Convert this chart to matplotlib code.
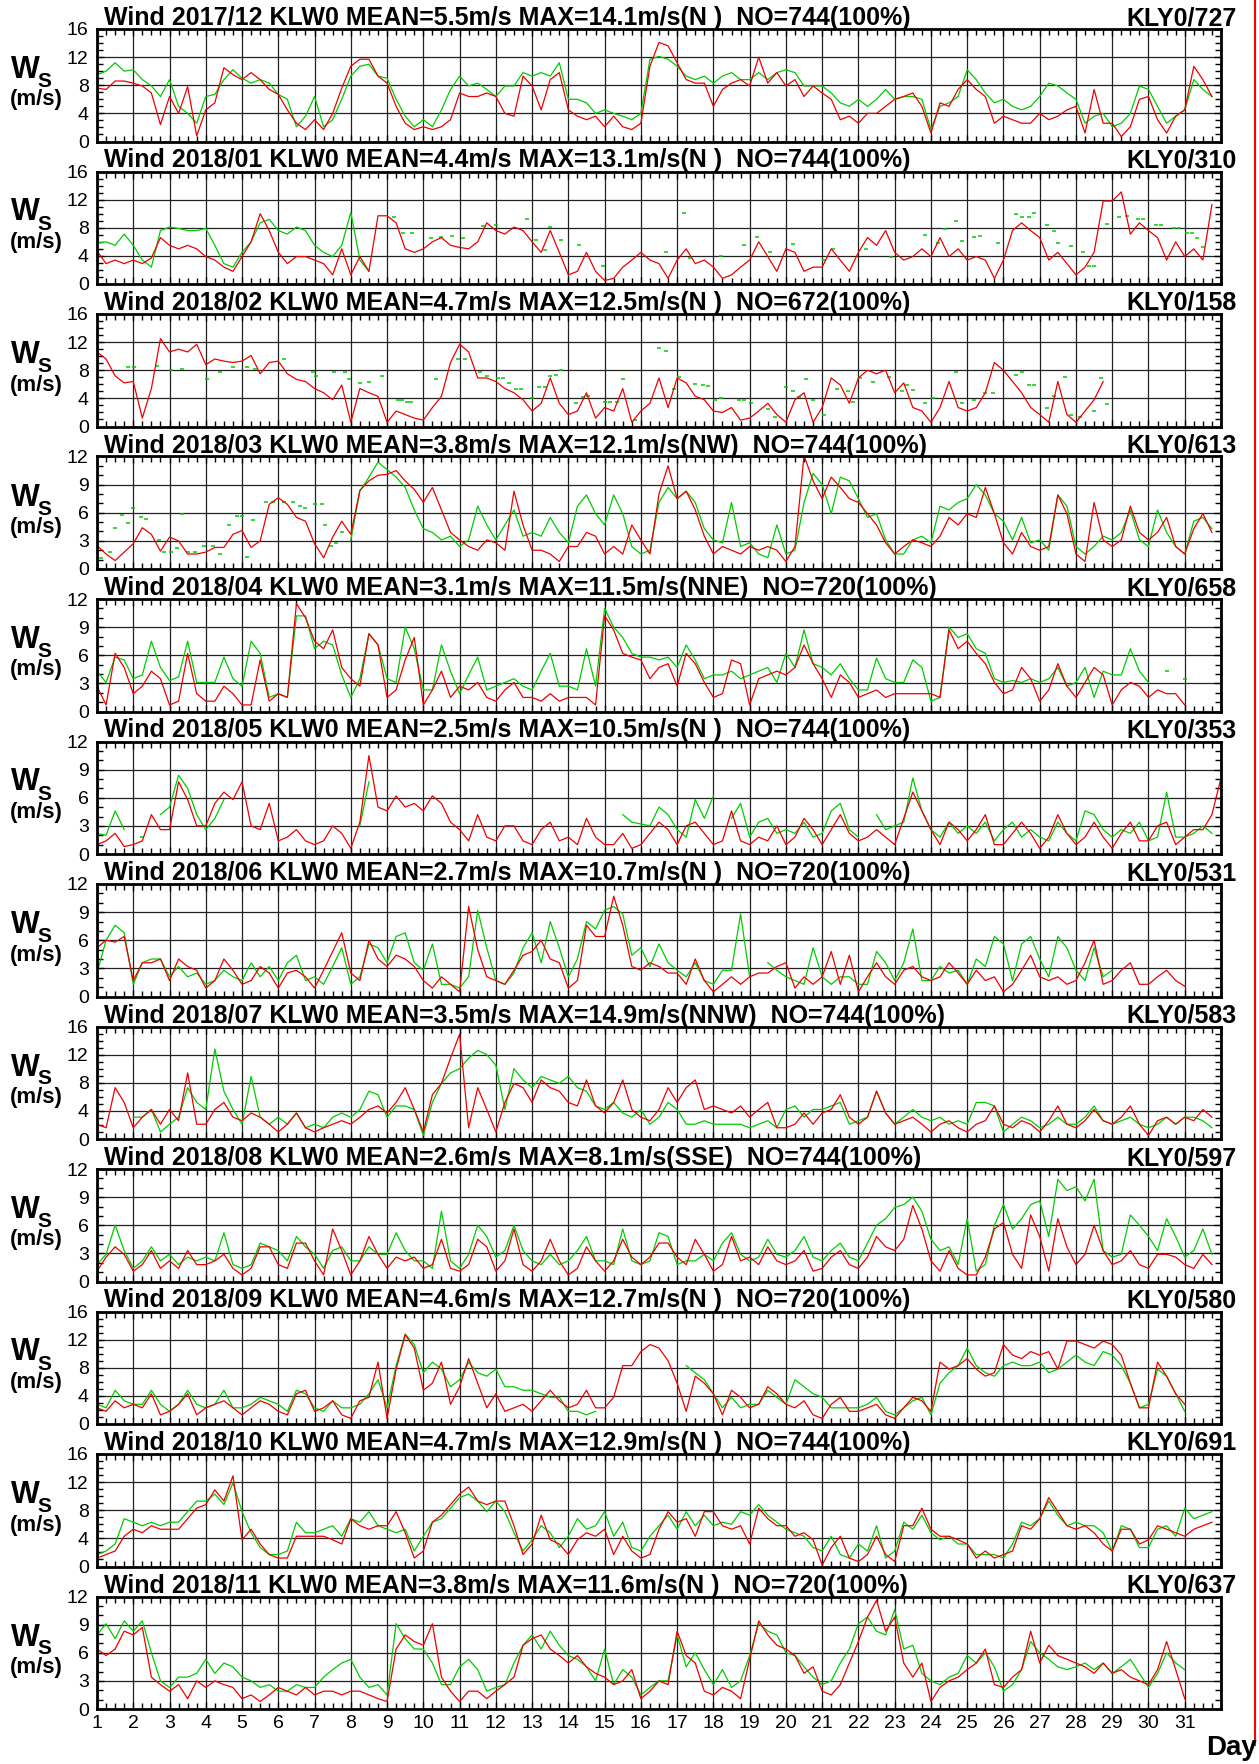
import numpy as np
import matplotlib
matplotlib.use("Agg")
import matplotlib.pyplot as plt
from matplotlib.lines import Line2D
from matplotlib.ticker import MultipleLocator

nan = np.nan

# panel headers
months = ['2017/12', '2018/01', '2018/02', '2018/03', '2018/04', '2018/05',
          '2018/06', '2018/07', '2018/08', '2018/09', '2018/10', '2018/11']
means = [5.5, 4.4, 4.7, 3.8, 3.1, 2.5, 2.7, 3.5, 2.6, 4.6, 4.7, 3.8]
maxes = [14.1, 13.1, 12.5, 12.1, 11.5, 10.5, 10.7, 14.9, 8.1, 12.7, 12.9, 11.6]
max_dirs = ['N ', 'N ', 'N ', 'NW', 'NNE', 'N ', 'N ', 'NNW', 'SSE', 'N ', 'N ', 'N ']
counts = [744, 744, 672, 744, 720, 744, 720, 744, 744, 720, 744, 720]
ref_ids = ['KLY0/727', 'KLY0/310', 'KLY0/158', 'KLY0/613', 'KLY0/658', 'KLY0/353',
           'KLY0/531', 'KLY0/583', 'KLY0/597', 'KLY0/580', 'KLY0/691', 'KLY0/637']
y_tops = [16, 16, 16, 12, 12, 12, 12, 16, 12, 16, 16, 12]
day_labels = [str(d) for d in range(1, 32)]

# wind speed (m/s), one value every 6 hours starting at day 1 00h
dec_red = [
    7.6, 7.4, 8.6, 8.6, 8.3, 7.9, 6.9, 2.4,
    6.4, 4.0, 7.8, 0.8, 4.5, 5.5, 10.5, 9.5,
    8.8, 9.8, 8.8, 7.4, 6.7, 4.5, 2.6, 1.7,
    3.1, 1.7, 4.0, 7.6, 10.7, 11.7, 11.7, 9.3,
    8.3, 5.0, 2.6, 1.7, 2.1, 1.7, 2.1, 3.1,
    6.9, 6.4, 6.4, 6.9, 6.4, 4.0, 3.6, 9.3,
    7.9, 4.5, 8.8, 9.8, 4.5, 3.6, 3.1, 3.6,
    2.1, 3.6, 2.1, 1.7, 2.6, 10.7, 14.1, 13.6,
    11.2, 8.8, 8.3, 8.3, 5.0, 7.4, 8.3, 8.8,
    7.9, 12.0, 8.3, 9.8, 7.9, 8.8, 6.4, 7.9,
    6.9, 6.0, 3.1, 3.6, 2.6, 4.0, 4.0, 5.0,
    6.0, 6.4, 6.9, 5.0, 1.2, 5.5, 5.0, 7.4,
    8.8, 7.4, 6.4, 2.6, 3.6, 3.1, 2.6, 2.6,
    4.0, 3.1, 3.6, 4.5, 5.0, 1.2, 7.4, 2.6,
    2.6, 0.7, 2.1, 6.0, 6.4, 3.1, 1.2, 3.6,
    4.5, 10.7, 8.8, 6.4,
]
dec_green = [
    9.5, 10.0, 11.2, 10.0, 10.2, 8.8, 7.9, 6.4,
    8.8, 5.0, 4.0, 2.6, 6.4, 6.7, 8.8, 10.2,
    9.0, 8.3, 8.8, 8.3, 6.7, 6.0, 2.1, 3.6,
    6.4, 2.1, 3.1, 6.0, 9.3, 10.7, 11.0, 9.3,
    9.0, 6.0, 3.6, 2.1, 3.1, 2.1, 4.5, 7.4,
    9.3, 7.9, 8.3, 7.4, 6.4, 7.9, 7.9, 9.8,
    9.3, 9.8, 9.3, 11.2, 6.0, 6.0, 5.5, 4.0,
    4.5, 4.0, 3.6, 3.1, 4.0, 11.7, 12.1, 11.7,
    10.7, 9.3, 8.8, 9.3, 8.3, 9.3, 9.8, 8.8,
    8.8, 9.8, 8.8, 9.8, 10.2, 9.8, 7.9, 7.9,
    7.9, 6.9, 5.5, 5.0, 6.0, 5.0, 6.0, 7.4,
    6.0, 6.4, 6.4, 6.0, 1.7, 5.0, 5.5, 6.4,
    10.2, 8.8, 6.9, 5.5, 6.0, 5.0, 4.5, 5.0,
    6.4, 8.3, 7.9, 6.9, 6.0, 2.6, 3.6, 4.0,
    2.1, 2.6, 4.0, 7.9, 7.4, 5.0, 2.6, 3.6,
    4.5, 8.8, 7.4, 6.4,
]

jan_red = [
    4.7, 2.9, 3.4, 2.9, 3.4, 2.9, 3.7, 6.6,
    5.5, 5.0, 5.5, 5.0, 3.9, 3.4, 2.4, 1.8,
    3.9, 6.0, 10.0, 7.6, 4.5, 2.9, 3.9, 3.9,
    3.4, 2.9, 1.3, 5.0, 1.3, 3.9, 1.8, 9.7,
    9.7, 8.7, 5.0, 4.5, 5.0, 6.0, 6.6, 5.5,
    5.2, 5.0, 6.0, 8.7, 7.6, 7.1, 8.1, 7.6,
    6.0, 4.5, 7.6, 4.5, 1.3, 1.8, 4.5, 1.8,
    0.5, 0.8, 2.4, 3.4, 4.5, 3.4, 2.9, 0.8,
    3.4, 5.0, 2.9, 3.4, 2.4, 0.8, 1.3, 2.4,
    3.4, 6.0, 3.9, 1.8, 5.0, 4.5, 1.8, 2.4,
    2.4, 5.0, 3.4, 1.8, 4.5, 6.6, 5.5, 7.6,
    4.5, 3.4, 3.9, 5.0, 3.9, 6.6, 3.9, 5.0,
    3.4, 3.9, 3.4, 0.8, 3.4, 7.6, 8.7, 7.6,
    6.6, 3.4, 4.5, 2.9, 1.3, 2.4, 4.5, 11.8,
    11.8, 13.1, 7.1, 8.7, 7.6, 6.6, 3.4, 6.0,
    3.9, 5.0, 3.4, 11.3,
]
jan_green = [
    5.8, 6.0, 5.5, 7.1, 5.5, 3.4, 2.4, 7.6,
    8.1, 7.9, 7.6, 7.6, 7.9, 5.5, 2.9, 2.4,
    4.5, 6.0, 8.7, 9.2, 7.6, 7.1, 8.1, 7.6,
    5.5, 4.5, 3.9, 5.5, 10.2, 3.4, 1.8,
]
jan_dot_days = [9.2, 9.45, 9.7, 10.2, 10.5, 10.8, 11.1, 11.65, 12.0, 12.85, 13.1, 13.35,
                13.5, 13.8, 14.3, 14.95, 16.7, 17.2, 17.35, 18.2, 18.85, 19.2, 19.55, 20.2,
                21.05, 21.3, 22.2, 22.9, 23.85, 24.2, 24.4, 24.7, 24.85, 25.2, 25.35, 25.85,
                26.35, 26.5, 26.7, 26.85, 27.2, 27.4, 27.5, 27.85, 28.2, 28.35, 28.5, 28.85,
                29.2, 29.4, 29.7, 29.85, 30.2, 30.35, 30.7, 30.85, 31.05, 31.2, 31.35, 31.5]
jan_dot_vals = [9.6, 7.3, 7.3, 6.6, 6.7, 6.8, 6.5, 8.2, 8.4, 9.2, 6.3, 4.8,
                8.1, 6.3, 5.5, 2.6, 4.5, 10.1, 3.7, 4.0, 5.5, 6.7, 4.6, 5.7,
                3.4, 5.0, 5.0, 3.9, 7.0, 5.8, 7.8, 8.9, 6.1, 6.7, 6.8, 5.9,
                9.9, 9.5, 9.6, 10.1, 8.4, 7.6, 5.8, 5.4, 4.6, 2.6, 2.6, 8.6,
                9.5, 9.7, 9.3, 9.3, 8.4, 8.4, 7.9, 7.9, 7.2, 7.2, 6.6, 5.2]

feb_red = [
    10.6, 9.6, 7.2, 6.2, 6.4, 1.2, 5.4, 12.5,
    10.6, 11.0, 10.6, 11.7, 8.8, 9.6, 9.3, 9.1,
    9.3, 10.1, 7.5, 9.1, 9.3, 7.5, 6.7, 6.4,
    5.4, 4.8, 3.8, 5.9, 0.6, 5.4, 4.8, 4.3,
    0.6, 2.2, 1.7, 1.2, 0.9, 2.7, 4.3, 9.1,
    11.7, 10.6, 6.9, 6.9, 6.4, 5.4, 4.8, 3.8,
    2.2, 3.3, 6.9, 3.3, 1.7, 2.2, 4.8, 1.2,
    2.7, 2.2, 5.4, 0.6, 2.2, 3.3, 6.9, 2.7,
    6.9, 6.2, 4.3, 3.8, 2.2, 2.0, 2.7, 0.9,
    1.2, 2.2, 3.3, 1.7, 0.6, 3.8, 4.8, 0.6,
    2.7, 6.9, 5.9, 3.3, 6.9, 8.0, 7.5, 8.0,
    4.8, 6.2, 2.7, 2.2, 0.6, 2.7, 6.4, 2.7,
    2.2, 2.7, 4.8, 9.1, 8.0, 6.4, 4.8, 2.7,
    1.7, 0.6, 6.4, 1.7, 0.6, 2.2, 3.8, 6.4,
]
feb_green = []
feb_dot_days = [1.85, 2.03, 2.65, 3.05, 3.35, 4.03, 4.4, 4.75, 5.15, 5.35, 6.15, 6.95,
                7.05, 7.55, 7.85, 7.95, 8.25, 8.5, 8.85, 9.3, 9.4, 9.55, 9.65, 10.35,
                10.95, 11.15, 11.55, 11.75, 12.05, 12.2, 12.35, 12.55, 12.7, 13.0, 13.2, 13.35,
                13.5, 13.65, 13.8, 14.2, 14.4, 14.55, 15.0, 15.15, 15.35, 15.5, 15.85, 16.5,
                16.7, 16.9, 17.05, 17.5, 17.7, 17.85, 18.05, 18.2, 18.7, 18.85, 19.05, 19.5,
                19.7, 20.0, 20.2, 20.35, 20.55, 20.75, 21.05, 21.4, 21.7, 21.85, 22.05, 22.4,
                22.85, 23.2, 23.35, 23.5, 23.85, 24.05, 24.7, 24.85, 25.2, 25.5, 25.7, 26.35,
                26.5, 26.7, 26.85, 27.2, 27.4, 27.7, 27.85, 28.1, 28.5, 28.7, 28.85]
feb_dot_vals = [8.4, 8.4, 8.6, 8.0, 8.2, 6.8, 7.7, 8.5, 8.5, 8.2, 9.6, 7.7,
                7.2, 7.7, 7.8, 6.7, 6.2, 6.3, 7.2, 3.7, 3.8, 3.5, 3.5, 6.8,
                9.6, 9.6, 7.7, 7.2, 6.9, 6.9, 6.2, 5.4, 5.4, 4.1, 5.6, 5.6,
                7.2, 7.3, 8.0, 3.3, 4.2, 4.3, 3.5, 3.5, 3.5, 6.8, 0.9, 11.2,
                10.7, 5.4, 7.0, 6.1, 5.9, 5.7, 3.8, 4.1, 3.8, 3.8, 3.3, 2.5,
                1.4, 5.6, 5.1, 4.2, 6.7, 3.8, 1.6, 5.3, 5.1, 3.5, 6.9, 6.4,
                7.0, 5.1, 5.9, 5.2, 3.3, 4.1, 7.7, 3.3, 3.8, 4.8, 4.8, 7.3,
                7.7, 5.9, 5.9, 2.7, 4.3, 7.0, 1.7, 1.3, 2.2, 6.9, 3.2]

mar_red = [
    2.5, 1.6, 0.9, 1.8, 2.7, 4.4, 3.7, 1.9,
    3.4, 3.0, 1.6, 1.6, 1.8, 2.3, 2.3, 3.7,
    4.1, 2.3, 3.0, 6.9, 7.6, 6.9, 5.5, 5.1,
    2.7, 1.2, 3.4, 5.1, 3.7, 8.4, 9.4, 10.0,
    10.1, 10.5, 9.4, 8.5, 7.1, 8.7, 6.3, 3.9,
    3.1, 2.4, 2.0, 3.1, 2.8, 2.0, 8.3, 4.7,
    2.0, 2.0, 1.6, 0.8, 2.4, 2.4, 3.9, 3.5,
    1.6, 2.4, 1.6, 4.7, 3.1, 1.6, 8.0, 11.0,
    7.5, 8.3, 6.3, 3.5, 1.6, 2.4, 2.0, 1.6,
    2.4, 2.0, 2.4, 2.0, 0.8, 2.4, 12.1, 9.4,
    7.5, 9.8, 8.7, 7.5, 7.1, 5.9, 4.7, 2.8,
    1.6, 2.4, 3.1, 2.8, 2.4, 3.5, 5.5, 4.7,
    5.9, 5.5, 8.7, 5.9, 2.8, 1.6, 3.9, 2.4,
    2.0, 2.4, 7.9, 5.9, 1.6, 0.8, 7.1, 3.1,
    2.4, 3.1, 6.7, 3.9, 3.1, 3.9, 5.5, 2.4,
    1.6, 4.3, 5.9, 3.9,
]
mar_green = [nan] * 28 + [
    3.1, 8.3, 9.8, 11.4, 10.6, 9.8, 8.7, 6.3,
    4.3, 3.9, 3.1, 3.5, 2.4, 3.1, 6.7, 4.7,
    3.1, 4.7, 6.3, 3.5, 3.9, 3.5, 5.5, 3.9,
    2.8, 6.7, 7.9, 5.9, 4.7, 7.9, 5.9, 2.4,
    1.6, 2.0, 7.1, 8.7, 7.5, 8.3, 7.1, 4.3,
    3.1, 2.8, 7.1, 2.4, 2.8, 1.6, 1.2, 4.7,
    1.6, 2.0, 7.1, 10.2, 9.0, 5.9, 9.8, 9.4,
    7.5, 5.5, 5.9, 3.1, 1.6, 1.6, 3.1, 3.5,
    2.8, 6.7, 6.3, 7.1, 7.5, 9.0, 7.9, 5.9,
    5.1, 3.1, 5.5, 2.8, 3.1, 2.0, 7.9, 6.7,
    2.4, 1.6, 2.4, 3.5, 3.1, 3.9, 6.3, 3.1,
    2.4, 6.3, 3.9, 2.4, 1.6, 5.1, 5.5, 4.3,
]
mar_dot_days = [1.1, 1.35, 1.5, 1.7, 1.85, 2.0, 2.2, 2.35, 2.7, 2.85, 3.05, 3.2,
                3.35, 3.5, 3.7, 3.95, 4.2, 4.4, 4.65, 4.85, 5.0, 5.15, 5.3, 5.65,
                5.85, 6.15, 6.4, 6.6, 6.75, 7.0, 7.2, 7.3, 7.45, 7.6, 7.75]
mar_dot_vals = [1.2, 1.8, 4.4, 5.8, 4.9, 6.5, 5.5, 5.3, 3.1, 1.8, 1.8, 2.2,
                5.9, 1.8, 1.8, 2.4, 2.4, 1.6, 4.7, 5.6, 5.6, 1.3, 5.2, 7.1,
                7.1, 7.1, 7.1, 6.7, 6.5, 6.9, 6.9, 4.7, 2.4, 2.8, 3.9]

apr_red = [
    2.7, 0.7, 6.2, 4.7, 1.9, 2.7, 4.3, 3.5,
    0.7, 1.1, 6.2, 1.9, 1.1, 1.1, 2.7, 1.9,
    0.7, 0.7, 5.5, 1.1, 1.9, 1.5, 11.5, 10.0,
    7.5, 6.7, 8.7, 4.7, 3.5, 2.7, 8.3, 7.1,
    1.5, 2.3, 5.5, 7.9, 0.7, 2.3, 4.3, 1.5,
    2.7, 2.3, 3.1, 1.5, 1.1, 2.3, 3.1, 1.5,
    1.5, 1.1, 1.9, 1.1, 1.5, 1.5, 1.5, 0.7,
    10.2, 8.7, 6.2, 5.8, 5.5, 3.5, 4.7, 5.1,
    2.7, 6.2, 5.1, 3.1, 1.5, 1.9, 5.5, 5.1,
    0.7, 3.5, 3.9, 4.3, 3.9, 4.7, 7.1, 5.1,
    3.5, 1.5, 3.9, 3.1, 1.5, 1.9, 2.3, 1.5,
    1.9, 1.9, 1.9, 1.9, 1.9, 1.5, 8.7, 6.7,
    7.5, 6.2, 5.1, 3.1, 1.9, 2.3, 4.7, 3.5,
    1.1, 2.3, 5.1, 2.7, 1.5, 3.1, 4.7, 3.9,
    0.7, 2.3, 3.1, 2.7, 1.5, 2.3, 1.9, 1.9,
    0.7,
]
apr_green = [
    4.3, 3.1, 5.8, 5.5, 3.5, 3.9, 7.5, 4.7,
    3.3, 3.7, 7.5, 3.1, 3.1, 3.1, 5.8, 3.5,
    2.7, 7.5, 6.2, 1.5, 1.9, 1.5, 10.2, 10.2,
    6.7, 7.5, 7.1, 3.9, 1.5, 3.5, 8.3, 7.1,
    3.5, 3.1, 9.0, 6.7, 2.3, 2.3, 7.1, 4.3,
    1.9, 3.9, 5.8, 2.3, 2.7, 3.1, 3.5, 2.7,
    2.3, 4.3, 6.2, 2.7, 2.7, 2.3, 6.7, 2.7,
    11.0, 9.0, 7.9, 6.2, 5.8, 5.8, 5.5, 5.8,
    4.7, 7.1, 5.5, 3.5, 3.9, 3.9, 4.3, 3.5,
    3.9, 4.3, 4.7, 3.1, 6.2, 4.7, 8.7, 5.1,
    4.7, 3.9, 5.1, 3.5, 2.3, 2.3, 5.7, 3.5,
    3.1, 3.1, 5.5, 4.7, 1.1, 1.5, 9.0, 7.9,
    8.3, 6.7, 6.2, 3.5, 3.1, 3.3, 3.1, 3.5,
    3.1, 3.5, 4.7, 2.7, 3.1, 4.7, 1.5, 4.3,
    3.9, 3.9, 6.7, 4.3, 3.1, nan, 4.3, nan,
    3.5,
]

may_red = [
    1.0, 1.4, 2.2, 0.8, 1.0, 1.4, 4.2, 2.6,
    2.6, 7.7, 5.8, 3.0, 3.0, 5.4, 6.6, 5.8,
    7.7, 3.0, 2.6, 5.4, 1.4, 1.8, 2.6, 1.4,
    1.0, 1.4, 3.0, 2.2, 0.6, 3.4, 10.5, 5.0,
    4.6, 6.2, 5.0, 5.4, 4.6, 6.2, 5.4, 3.4,
    2.6, 1.4, 4.2, 1.8, 1.4, 3.0, 3.0, 1.4,
    1.0, 2.6, 3.4, 1.4, 1.8, 1.0, 3.8, 1.8,
    1.0, 1.0, 2.2, 0.6, 1.0, 2.2, 3.4, 2.6,
    1.0, 3.0, 3.4, 2.2, 1.0, 1.4, 4.6, 1.4,
    1.0, 1.8, 1.4, 3.0, 1.0, 1.8, 3.8, 2.6,
    1.0, 2.6, 4.2, 2.2, 1.4, 1.8, 2.6, 1.8,
    1.0, 3.8, 6.6, 4.6, 2.6, 1.0, 3.4, 2.6,
    1.4, 2.6, 4.2, 1.0, 1.0, 2.2, 3.4, 2.2,
    0.6, 1.8, 4.2, 2.2, 1.0, 1.8, 3.4, 1.8,
    0.6, 2.2, 3.4, 1.4, 1.4, 3.0, 3.4, 1.0,
    1.8, 2.6, 2.6, 4.2, 8.1,
]
may_green = [
    2.2, 2.0, 4.6, 2.6, nan, 1.8, nan, 4.2,
    5.0, 8.4, 7.0, 4.2, 2.6, 3.8, 5.8, nan,
    nan, nan, nan, nan, nan, nan, nan, nan,
    nan, nan, nan, nan, nan, 3.0, 7.7, nan,
    nan, nan, nan, nan, nan, nan, nan, nan,
    nan, nan, nan, nan, nan, nan, nan, nan,
    nan, nan, nan, nan, nan, nan, nan, nan,
    nan, nan, 4.2, 3.4, 3.2, 3.0, 5.0, 4.2,
    2.6, 1.8, 5.8, 3.8, 6.2, nan, 3.8, 5.4,
    1.8, 3.4, 3.8, 2.2, 2.6, 2.2, 3.4, 1.8,
    2.2, 4.6, 5.4, 2.6, 1.8, nan, 4.2, 2.6,
    3.0, 3.4, 8.1, 4.6, 2.6, 1.8, 3.4, 2.2,
    3.0, 2.2, 3.4, 1.4, 2.6, 3.4, 1.8, 2.6,
    1.8, 1.4, 3.4, 2.2, 1.4, 4.6, 4.2, 2.6,
    1.8, 2.6, 2.2, 3.4, 1.4, 1.8, 6.6, 1.8,
    1.8, 2.2, 3.0, 2.2,
]

jun_red = [
    5.2, 6.0, 5.8, 6.4, 1.7, 3.6, 3.6, 4.0,
    1.7, 4.0, 3.2, 2.8, 0.9, 1.7, 4.0, 2.8,
    1.3, 1.7, 3.2, 2.5, 0.9, 2.5, 2.8, 2.1,
    0.9, 2.8, 4.8, 6.8, 2.5, 1.7, 6.0, 4.0,
    3.2, 4.4, 4.0, 3.2, 1.7, 0.9, 2.1, 1.3,
    0.5, 9.6, 5.0, 2.1, 1.7, 1.3, 2.8, 4.4,
    4.8, 6.0, 4.0, 3.6, 0.9, 1.7, 7.6, 6.4,
    6.4, 10.7, 7.6, 3.2, 2.8, 3.6, 3.2, 2.5,
    2.5, 1.3, 4.0, 1.7, 0.5, 1.3, 2.1, 1.3,
    2.1, 2.5, 2.5, 3.2, 3.6, 0.9, 2.1, 1.3,
    2.1, 4.8, 1.3, 4.4, 0.5, 2.1, 3.6, 2.1,
    1.3, 2.8, 3.2, 2.1, 1.7, 2.1, 3.6, 2.5,
    1.3, 2.8, 1.7, 2.1, 0.5, 1.3, 2.8, 4.4,
    2.1, 1.7, 2.1, 1.3, 1.7, 3.6, 6.0, 1.3,
    1.7, 2.8, 3.6, 1.3, 1.3, 2.1, 2.8, 1.7,
    1.1,
]
jun_green = [
    2.5, 6.0, 7.6, 6.8, 1.3, 3.6, 4.0, 4.0,
    2.1, 3.2, 2.1, 2.5, 1.3, 1.7, 2.8, 2.1,
    1.7, 3.6, 2.1, 3.2, 1.7, 3.6, 4.4, 1.7,
    2.1, 1.3, 3.2, 5.2, 1.3, 2.1, 5.6, 5.2,
    3.6, 6.4, 6.8, 3.6, 2.8, 5.6, 1.3, 1.3,
    0.9, 2.1, 9.2, 5.2, 1.7, 1.3, 2.5, 5.2,
    6.8, 3.6, 8.0, 5.2, 2.1, 4.0, 8.0, 7.2,
    9.2, 9.6, 8.8, 4.4, 5.2, 3.2, 5.6, 3.6,
    2.8, 2.1, 3.6, 1.7, 1.3, 2.8, 2.8, 8.8,
    2.1, nan, 3.6, 2.8, 2.1, 1.7, 1.3, 5.2,
    2.1, 1.3, 2.1, 2.1, 1.3, 1.3, 4.8, 3.6,
    1.7, 3.6, 7.2, 1.7, 1.7, 3.2, 2.5, 2.8,
    1.3, 4.0, 3.2, 6.4, 5.6, 1.7, 5.6, 6.4,
    4.0, 2.1, 6.4, 5.2, 2.8, 1.7, 5.2, 2.1,
    2.8,
]

jul_red = [
    2.1, 1.6, 7.3, 5.2, 1.6, 3.1, 4.2, 2.1,
    4.2, 2.6, 9.4, 2.1, 2.1, 4.2, 5.2, 3.1,
    2.6, 3.7, 3.1, 2.1, 1.0, 2.1, 3.7, 1.6,
    1.0, 1.6, 2.1, 2.6, 2.1, 3.1, 4.2, 4.7,
    3.7, 5.2, 7.3, 4.2, 1.0, 6.3, 7.9, 11.5,
    14.9, 1.6, 7.3, 4.2, 1.0, 5.2, 7.9, 7.3,
    5.2, 8.4, 7.3, 6.8, 5.2, 4.7, 8.4, 4.7,
    3.7, 5.2, 8.4, 4.2, 3.1, 2.6, 4.2, 7.3,
    5.2, 7.3, 8.4, 4.2, 4.7, 4.2, 3.7, 4.7,
    3.1, 4.2, 5.2, 1.6, 1.6, 2.1, 3.7, 2.1,
    3.7, 4.2, 6.3, 3.1, 2.1, 3.1, 6.8, 3.7,
    2.1, 2.6, 3.1, 2.1, 1.0, 2.1, 2.6, 1.6,
    1.0, 2.1, 2.6, 4.7, 2.1, 1.6, 2.6, 2.1,
    1.0, 2.6, 4.7, 2.1, 1.6, 2.6, 4.2, 2.6,
    2.1, 3.1, 4.7, 2.1, 0.5, 2.6, 3.1, 2.1,
    3.1, 2.6, 4.2, 3.1,
]
jul_green = [
    nan, nan, nan, nan, 3.1, 3.1, 4.2, 1.0,
    2.1, 3.1, 7.3, 5.2, 4.2, 12.8, 6.8, 4.2,
    2.1, 8.9, 3.1, 2.1, 3.1, 2.1, 3.7, 1.6,
    2.1, 1.6, 3.1, 3.7, 3.1, 4.2, 6.8, 6.3,
    3.1, 4.7, 4.7, 4.2, 0.5, 5.2, 7.9, 9.4,
    10.0, 11.5, 12.6, 12.0, 10.5, 4.2, 10.0, 8.4,
    7.3, 8.9, 8.4, 7.9, 8.9, 7.3, 6.8, 4.7,
    4.2, 5.2, 3.7, 3.1, 4.2, 2.1, 3.1, 5.2,
    4.2, 2.1, 2.1, 2.6, 2.1, 2.1, 2.1, 2.1,
    1.6, 2.1, 2.6, 1.6, 4.2, 4.7, 3.1, 4.2,
    4.2, 4.7, 5.2, 2.1, 2.6, 3.1, 6.8, 3.7,
    2.1, 3.1, 4.2, 3.1, 2.6, 3.1, 2.1, 2.6,
    2.1, 5.2, 5.2, 4.7, 1.0, 2.1, 3.1, 2.6,
    1.6, 2.1, 3.1, 2.1, 2.1, 3.1, 4.7, 2.6,
    2.1, 2.6, 3.1, 2.1, 1.6, 2.1, 3.1, 2.1,
    3.1, 3.1, 2.6, 1.6,
]

aug_red = [
    1.1, 2.6, 3.7, 2.9, 1.1, 1.8, 3.3, 1.4,
    2.2, 1.4, 3.3, 1.8, 1.8, 2.2, 2.9, 1.4,
    0.7, 1.4, 3.7, 3.7, 1.8, 1.4, 4.1, 4.1,
    2.2, 0.7, 5.6, 3.3, 0.7, 2.2, 4.8, 2.9,
    1.4, 2.6, 2.2, 2.6, 1.4, 1.8, 4.5, 1.4,
    1.1, 1.8, 4.5, 3.7, 1.1, 2.2, 5.6, 1.8,
    1.1, 2.2, 4.5, 2.2, 0.7, 1.4, 3.7, 2.2,
    1.1, 2.2, 4.5, 2.6, 1.8, 2.6, 4.1, 4.1,
    2.6, 1.8, 4.5, 2.9, 1.1, 1.8, 4.8, 2.2,
    2.6, 1.8, 3.7, 2.2, 1.8, 2.2, 3.3, 1.1,
    1.4, 2.6, 3.3, 1.8, 1.4, 2.6, 4.8, 3.7,
    3.3, 4.5, 8.1, 5.6, 2.2, 1.1, 3.3, 1.4,
    0.7, 0.7, 2.6, 5.6, 6.3, 2.9, 1.4, 7.1,
    4.8, 1.1, 6.7, 3.7, 1.8, 2.9, 6.0, 3.3,
    1.8, 2.2, 3.3, 1.8, 1.4, 2.9, 2.9, 2.6,
    1.8, 1.4, 2.9, 1.8,
]
aug_green = [
    1.8, 2.9, 6.0, 3.3, 1.4, 2.2, 3.7, 2.2,
    2.9, 1.8, 2.6, 2.2, 2.6, 2.2, 5.2, 1.8,
    1.4, 1.8, 4.1, 3.7, 3.3, 2.2, 4.8, 3.7,
    2.9, 1.4, 3.3, 3.7, 2.2, 2.2, 3.7, 2.9,
    2.9, 5.2, 3.3, 2.2, 2.2, 1.4, 7.5, 2.2,
    1.4, 2.9, 6.0, 4.8, 2.6, 3.3, 6.0, 3.3,
    2.2, 1.8, 2.9, 1.8, 2.2, 3.3, 4.8, 2.2,
    2.2, 1.8, 5.6, 2.2, 1.8, 2.2, 5.2, 4.8,
    1.8, 2.2, 2.2, 2.9, 2.2, 4.1, 5.2, 2.9,
    2.2, 2.6, 4.5, 2.9, 2.6, 3.3, 4.8, 2.6,
    2.2, 3.3, 4.1, 2.6, 2.2, 4.1, 6.0, 6.7,
    7.9, 8.2, 9.0, 7.5, 4.5, 3.3, 3.7, 1.8,
    6.7, 1.1, 1.8, 6.0, 8.2, 5.6, 6.7, 8.2,
    8.6, 4.8, 10.9, 9.7, 10.1, 8.6, 10.9, 3.3,
    2.6, 2.9, 7.1, 6.0, 4.8, 3.3, 6.7, 4.8,
    2.6, 3.3, 5.6, 2.9,
]

sep_red = [
    2.3, 1.8, 3.3, 2.3, 2.8, 2.3, 4.3, 1.3,
    1.8, 2.8, 4.3, 1.3, 2.3, 2.8, 3.3, 2.3,
    1.3, 2.3, 3.3, 2.8, 1.8, 1.3, 4.3, 4.8,
    1.8, 2.3, 3.3, 1.3, 0.8, 3.3, 3.8, 8.8,
    0.8, 7.8, 12.7, 10.8, 4.8, 5.8, 8.8, 2.8,
    5.3, 9.3, 5.8, 2.3, 4.3, 1.8, 2.3, 2.8,
    1.8, 3.3, 4.8, 3.3, 2.3, 2.8, 4.8, 2.3,
    2.3, 3.8, 8.3, 8.3, 10.3, 11.3, 10.8, 9.0,
    5.8, 1.8, 6.8, 5.8, 4.3, 1.3, 4.8, 3.8,
    2.3, 2.8, 5.3, 4.3, 2.8, 2.3, 3.3, 1.3,
    0.8, 2.8, 3.8, 1.8, 1.8, 2.3, 2.8, 1.3,
    0.8, 2.3, 3.8, 3.3, 1.8, 8.8, 7.8, 8.3,
    9.3, 7.8, 6.8, 7.3, 11.3, 9.8, 9.3, 10.3,
    9.8, 10.3, 7.8, 11.8, 11.8, 11.3, 10.8, 11.8,
    11.3, 9.8, 5.8, 2.3, 2.3, 8.8, 6.8, 4.3,
    2.8,
]
sep_green = [
    2.8, 2.3, 4.8, 3.3, 2.8, 2.8, 4.8, 2.8,
    1.8, 2.8, 4.8, 2.8, 2.3, 2.8, 4.8, 2.3,
    2.3, 2.8, 3.8, 3.3, 2.8, 1.8, 4.8, 4.3,
    2.3, 1.8, 3.3, 2.3, 2.3, 2.8, 4.3, 6.3,
    2.3, 8.3, 12.8, 11.3, 7.3, 8.8, 7.8, 5.3,
    6.3, 8.8, 7.3, 6.8, 7.8, 5.3, 5.3, 4.8,
    4.8, 4.3, 3.8, 3.8, 1.8, 1.8, 1.3, 1.8,
    nan, nan, nan, nan, nan, nan, nan, nan,
    nan, 8.3, 7.3, 6.3, 4.3, 2.3, 3.8, 2.3,
    2.8, 2.8, 4.8, 3.8, 2.8, 6.3, 5.3, 4.3,
    3.8, 2.3, 2.3, 2.3, 2.3, 2.8, 3.8, 1.8,
    1.3, 2.3, 3.3, 3.8, 1.3, 5.8, 7.3, 8.3,
    10.8, 8.3, 7.3, 6.8, 8.3, 8.8, 8.3, 8.3,
    8.8, 7.3, 7.8, 8.8, 9.8, 8.8, 8.3, 10.3,
    9.8, 8.3, 5.8, 2.3, 2.8, 7.8, 6.8, 4.3,
    1.8,
]

oct_red = [
    1.2, 1.7, 2.2, 4.3, 5.3, 4.8, 5.8, 5.3,
    5.3, 5.3, 6.8, 8.3, 8.8, 10.9, 9.3, 12.9,
    3.8, 5.3, 3.2, 1.7, 1.2, 1.2, 4.3, 4.3,
    4.3, 4.3, 3.8, 3.2, 6.8, 5.8, 5.3, 5.8,
    5.8, 7.8, 4.8, 1.2, 2.2, 6.3, 7.3, 8.8,
    10.3, 11.3, 9.3, 8.8, 9.3, 9.3, 5.8, 1.7,
    3.2, 7.3, 3.8, 3.2, 1.7, 3.8, 4.8, 4.3,
    5.3, 1.7, 4.3, 2.2, 1.2, 1.7, 5.3, 7.8,
    6.3, 6.8, 4.3, 7.8, 7.8, 5.8, 5.3, 5.8,
    3.2, 8.3, 6.8, 5.8, 5.8, 4.3, 4.8, 3.8,
    0.2, 2.7, 4.3, 1.2, 0.7, 1.7, 4.3, 1.7,
    0.7, 5.8, 5.8, 8.3, 5.3, 4.3, 4.3, 3.8,
    3.2, 1.2, 2.2, 1.2, 1.7, 2.2, 5.8, 5.3,
    6.8, 9.8, 7.8, 5.8, 5.3, 5.8, 4.8, 3.2,
    2.2, 5.3, 5.3, 3.2, 3.8, 5.8, 5.3, 4.8,
    4.3, 5.3, 5.8, 6.3,
]
oct_green = [
    1.7, 2.2, 3.2, 6.8, 6.3, 5.8, 6.3, 5.8,
    6.3, 6.3, 7.8, 9.3, 9.3, 10.3, 8.8, 11.9,
    7.8, 4.8, 2.7, 1.7, 1.7, 2.2, 6.3, 4.8,
    4.8, 5.3, 5.8, 4.3, 6.8, 6.3, 7.8, 5.8,
    5.3, 4.8, 5.3, 2.2, 4.3, 6.3, 6.8, 8.3,
    9.8, 10.3, 9.3, 7.8, 9.3, 7.8, 4.8, 2.2,
    3.8, 5.8, 4.8, 2.7, 4.3, 6.8, 5.3, 5.8,
    7.8, 4.3, 6.3, 2.7, 2.2, 4.3, 5.8, 7.3,
    5.3, 7.8, 5.8, 7.3, 5.8, 6.3, 6.0, 7.8,
    7.3, 8.8, 7.3, 6.3, 5.3, 4.8, 4.3, 2.7,
    2.2, 4.3, 1.7, 1.2, 3.2, 2.2, 5.8, 1.2,
    2.2, 6.3, 5.3, 7.3, 4.8, 3.8, 4.3, 3.2,
    3.2, 1.7, 1.7, 1.7, 1.2, 3.2, 6.3, 5.8,
    6.8, 9.3, 7.3, 5.8, 6.3, 5.8, 5.8, 4.8,
    2.2, 5.8, 5.3, 2.7, 2.7, 5.3, 5.8, 4.3,
    8.3, 6.8, 7.3, 7.8,
]

nov_red = [
    6.4, 5.7, 6.4, 8.3, 7.9, 8.7, 3.4, 2.6,
    1.9, 2.6, 1.1, 3.0, 2.3, 3.0, 2.6, 2.3,
    1.1, 1.5, 0.8, 1.5, 2.3, 1.9, 1.5, 2.3,
    1.5, 1.9, 1.9, 1.5, 1.9, 1.9, 1.5, 1.1,
    0.8, 6.4, 7.9, 7.2, 6.8, 9.1, 3.4, 1.9,
    0.8, 1.9, 1.9, 1.1, 1.9, 2.6, 3.4, 6.8,
    7.5, 7.9, 6.4, 5.7, 4.9, 5.7, 4.5, 3.8,
    3.4, 2.6, 3.0, 4.2, 1.1, 1.9, 3.0, 2.6,
    8.3, 5.7, 4.9, 1.9, 1.5, 2.3, 1.9, 1.1,
    5.3, 9.4, 7.9, 6.8, 6.4, 5.7, 3.8, 4.5,
    1.9, 1.5, 2.6, 4.9, 7.2, 9.8, 11.6, 8.3,
    9.8, 4.9, 3.4, 4.9, 0.8, 2.3, 3.0, 3.4,
    4.2, 4.9, 6.4, 2.6, 2.3, 3.4, 4.2, 8.3,
    4.9, 6.8, 5.7, 5.3, 4.9, 4.5, 3.8, 4.9,
    3.8, 4.2, 3.4, 3.0, 2.6, 4.2, 7.2, 4.2,
    1.1,
]
nov_green = [
    7.9, 9.1, 7.5, 9.4, 8.3, 9.4, 6.0, 3.0,
    2.3, 3.4, 3.4, 3.8, 5.3, 3.8, 4.9, 4.5,
    3.4, 3.0, 2.3, 2.6, 1.9, 1.9, 2.6, 2.3,
    2.3, 3.4, 4.2, 4.9, 5.3, 3.4, 2.3, 2.6,
    1.5, 9.1, 7.5, 6.4, 6.4, 4.9, 2.6, 2.6,
    4.5, 5.3, 4.2, 1.9, 2.3, 2.6, 4.9, 6.8,
    7.9, 6.4, 8.3, 6.8, 5.7, 5.3, 4.5, 3.0,
    6.4, 2.6, 4.2, 3.4, 1.5, 2.3, 3.0, 3.0,
    7.9, 4.5, 6.0, 4.2, 2.6, 4.2, 2.3, 3.0,
    5.7, 9.1, 8.3, 7.9, 6.0, 5.7, 4.5, 3.4,
    2.6, 3.0, 4.9, 6.4, 9.1, 9.8, 8.3, 7.9,
    10.6, 6.4, 6.8, 3.8, 3.0, 2.6, 3.4, 3.8,
    5.7, 4.9, 6.0, 4.5, 1.9, 2.6, 4.2, 7.2,
    6.0, 5.3, 4.5, 4.2, 4.5, 4.9, 4.2, 4.9,
    3.8, 4.5, 5.3, 3.8, 2.3, 3.8, 6.0, 4.9,
    4.2,
]

red_series = [dec_red, jan_red, feb_red, mar_red, apr_red, may_red,
              jun_red, jul_red, aug_red, sep_red, oct_red, nov_red]
green_series = [dec_green, jan_green, feb_green, mar_green, apr_green, may_green,
                jun_green, jul_green, aug_green, sep_green, oct_green, nov_green]
dot_days = [[], jan_dot_days, feb_dot_days, mar_dot_days] + [[]] * 8
dot_vals = [[], jan_dot_vals, feb_dot_vals, mar_dot_vals] + [[]] * 8

RED = '#ee0000'
GREEN = '#00cc00'
W, H = 1259, 1764

plt.rcParams['font.family'] = ['Liberation Sans', 'DejaVu Sans']


def fx(px):
    return px / W


def fy(py):
    return 1 - py / H


def isolated(v):
    ok = ~np.isnan(v)
    prev = np.r_[False, ok[:-1]]
    nxt = np.r_[ok[1:], False]
    return ok & ~prev & ~nxt


fig = plt.figure(figsize=(W / 100, H / 100), dpi=100)

for i in range(12):
    top = 29 + 142.5 * i
    ax = fig.add_axes([fx(97), fy(top + 112.5), 1124 / W, 112.5 / H])

    g = np.array(green_series[i], dtype=float)
    if len(g):
        xg = 1 + np.arange(len(g)) / 4
        ax.plot(xg, g, color=GREEN, lw=0.9)
        iso = isolated(g)
        ax.plot(xg[iso], g[iso], ls='none', marker='_', ms=2.5, mew=1.1, color=GREEN)
    if dot_days[i]:
        ax.plot(dot_days[i], dot_vals[i], ls='none', marker='_', ms=2.5, mew=1.1, color=GREEN)

    r = np.array(red_series[i], dtype=float)
    xr = 1 + np.arange(len(r)) / 4
    ax.plot(xr, r, color=RED, lw=0.9)

    ytop = y_tops[i]
    ax.set_xlim(1, 32)
    ax.set_ylim(0, ytop)
    ax.set_yticks(np.arange(0, ytop + 1, ytop // 4))
    ax.yaxis.set_minor_locator(MultipleLocator(1))
    ax.set_xticks(np.arange(1, 33))
    ax.xaxis.set_minor_locator(MultipleLocator(0.25))
    ax.grid(True, which='major', color='#222222', lw=0.9)
    ax.tick_params(which='both', direction='in', top=True, right=True, width=1)
    ax.tick_params(which='major', length=5)
    ax.tick_params(which='minor', length=4)
    ax.tick_params(axis='y', labelsize=14, pad=6)
    ax.tick_params(axis='x', labelsize=14, pad=4)
    if i == 11:
        ax.set_xticklabels(day_labels + [''])
    else:
        ax.set_xticklabels([])
    for s in ax.spines.values():
        s.set_linewidth(2)

    title = 'Wind %s KLW0 MEAN=%.1fm/s MAX=%.1fm/s(%s)  NO=%d(100%%)' % (
        months[i], means[i], maxes[i], max_dirs[i], counts[i])
    fig.text(fx(104), fy(top - 4), title, fontsize=18, fontweight='bold', va='baseline')
    fig.text(fx(1237), fy(top - 4), ref_ids[i], fontsize=18, fontweight='bold',
             va='baseline', ha='right')

    # Ws (m/s) label
    fig.text(fx(11), fy(top + 49), 'W', fontsize=22, fontweight='bold', va='baseline')
    fig.text(fx(37), fy(top + 58), 'S', fontsize=15, fontweight='bold', va='baseline')
    fig.text(fx(36), fy(top + 71), '(m/s)', fontsize=16, fontweight='bold',
             va='center', ha='center')

fig.text(fx(1232), fy(1748), 'Day', fontsize=20, fontweight='bold', ha='center', va='center')
fig.add_artist(Line2D([fx(1255), fx(1255)], [fy(1745), 1.0], color='red', lw=1.5))

fig.savefig('out.png', dpi=100)
